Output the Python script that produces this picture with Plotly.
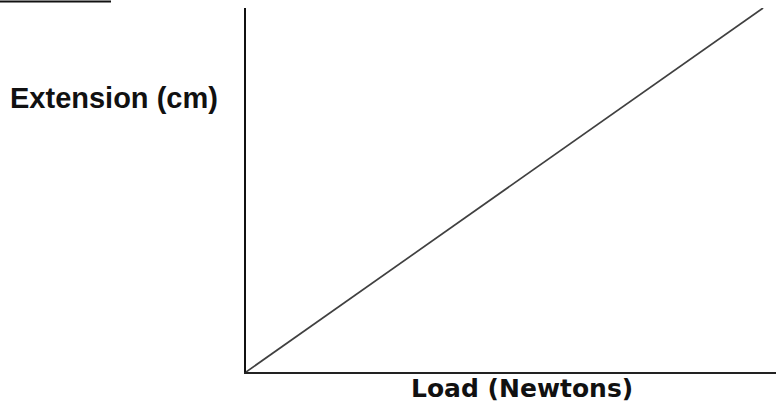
import plotly.graph_objects as go

load = [0, 10]
extension = [0, 10]
x_title = "Load (Newtons)"
y_title = "Extension (cm)"

W, H = 776, 412
L, R, T, B = 246, 0, 8, 40
pw, ph = W - L - R, H - T - B

def px_x(p):
    return (p - L) / pw

def px_y(p):
    return (H - B - p) / ph

fig = go.Figure()
fig.add_trace(go.Scatter(x=load, y=extension, mode="lines",
                         line=dict(color="#404040", width=1.7),
                         hoverinfo="skip", showlegend=False))

fig.update_layout(
    width=W, height=H,
    margin=dict(l=L, r=R, t=T, b=B),
    paper_bgcolor="white", plot_bgcolor="white",
    xaxis=dict(range=[0, 10.25], showgrid=False, zeroline=False, showticklabels=False,
               ticks="", showline=True, linecolor="#222", linewidth=2, fixedrange=True),
    yaxis=dict(range=[0, 10], showgrid=False, zeroline=False, showticklabels=False,
               ticks="", showline=True, linecolor="#111", linewidth=2, fixedrange=True),
    annotations=[
        dict(text="<b>" + y_title + "</b>", xref="paper", yref="paper", x=px_x(114), y=px_y(98),
             xanchor="center", yanchor="middle", showarrow=False,
             font=dict(family="Liberation Sans", size=29, color="#111")),
        dict(text="<b>" + x_title + "</b>", xref="paper", yref="paper", x=px_x(522), y=px_y(388),
             xanchor="center", yanchor="middle", showarrow=False,
             font=dict(family="DejaVu Sans", size=25, color="#111")),
    ],
    shapes=[
        dict(type="line", xref="paper", yref="paper", x0=px_x(0), x1=px_x(111),
             y0=px_y(1.5), y1=px_y(1.5), line=dict(color="#111", width=2)),
    ],
)

fig.write_html("out.html", config={"displayModeBar": False},
               post_script="document.body.style.margin='0';document.body.style.padding='0';")
